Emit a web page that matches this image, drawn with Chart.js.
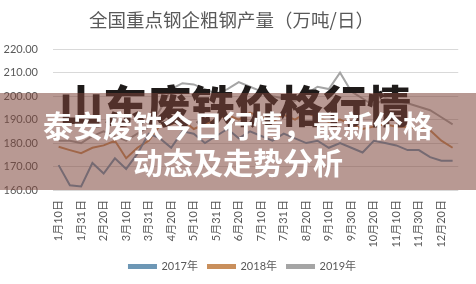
<!DOCTYPE html>
<html lang="zh-CN">
<head>
<meta charset="utf-8">
<title>全国重点钢企粗钢产量</title>
<script src="https://cdn.jsdelivr.net/npm/chart.js@4"></script>
<style>
  html, body { margin: 0; padding: 0; background: #ffffff; }
  #wrap { position: relative; width: 476px; height: 284px; overflow: hidden; }
  #chart { position: absolute; left: 0; top: 0; }
  .headline {
    position: absolute; left: 0; width: 470px; top: 82px;
    text-align: center; font-family: "Noto Sans CJK SC", sans-serif;
    font-size: 44px; line-height: 44px; font-weight: 900; color: #1e1a19;
    white-space: nowrap;
  }
  .band {
    position: absolute; left: 0; top: 93px; width: 476px; height: 97px;
    background: rgba(125, 70, 58, 0.55);
  }
  .caption {
    position: absolute; left: 0; width: 476px; top: 106px;
    text-align: center; font-family: "Noto Sans CJK SC", sans-serif;
    font-size: 30px; line-height: 37px; font-weight: 700; color: #ffffff;
    white-space: nowrap;
  }
</style>
</head>
<body>
<div id="wrap">
  <canvas id="chart" width="476" height="284"></canvas>
  <div class="headline">山东废铁价格行情</div>
  <div class="band"></div>
  <div class="caption">泰安废铁今日行情，最新价格<br>动态及走势分析</div>
</div>
<script>
// Ten-day reporting dates across the year
const categories = ['1月10日','1月20日','1月31日','2月10日','2月20日','2月28日',
  '3月10日','3月20日','3月31日','4月10日','4月20日','4月30日',
  '5月10日','5月20日','5月31日','6月10日','6月20日','6月30日',
  '7月10日','7月20日','7月31日','8月10日','8月20日','8月31日',
  '9月10日','9月20日','9月30日','10月10日','10月20日','10月31日',
  '11月10日','11月20日','11月30日','12月10日','12月20日','12月31日'];

// Daily crude steel output of key steel enterprises (10k tonnes / day)
const output2017 = [170.6, 162.0, 161.5, 171.5, 167.0, 173.5, 169.0, 175.5, 184.0, 182.0,
  178.0, 185.0, 184.0, 180.0, 183.0, 186.0, 182.0, 185.0, 183.0, 181.0,
  184.0, 182.0, 180.0, 181.0, 178.0, 180.0, 178.0, 176.0, 181.0, 180.0,
  179.0, 177.0, 177.0, 174.0, 172.5, 172.5];
const output2018 = [178.4, 177.0, 175.7, 178.0, 179.0, 181.0, 173.5, 178.0, 181.0, 187.5,
  188.0, 190.0, 186.0, 188.0, 190.0, 192.0, 190.0, 193.0, 191.0, 189.0,
  192.0, 190.0, 193.0, 191.0, 189.0, 190.0, 188.0, 186.0, 187.0, 188.0,
  187.0, 186.8, 186.0, 185.5, 181.0, 178.0];
const output2019 = [181.0, 181.0, 180.0, 183.0, 185.0, 183.0, 181.0, 184.0, 187.0, 194.0,
  203.0, 205.5, 205.0, 203.0, 201.0, 203.0, 206.0, 204.0, 202.0, 200.0,
  199.0, 198.0, 201.0, 204.0, 203.0, 210.0, 202.0, 199.0, 196.0, 199.0,
  198.0, 197.0, 195.5, 194.0, 191.0, 188.0];

const seriesNames = ['2017年', '2018年', '2019年'];
const chartTitle = '全国重点钢企粗钢产量（万吨/日）';

const textFont = 'Lato, "Noto Sans CJK SC", sans-serif';
const textColor = '#595959';

// Nudge the bottom legend so it sits centred under the whole figure
const legendShift = {
  id: 'legendShift',
  afterLayout(chart) {
    const lg = chart.legend;
    if (lg) { lg.left += 11; lg.right += 11; }
  }
};

new Chart(document.getElementById('chart'), {
  type: 'line',
  data: {
    labels: categories,
    datasets: [
      { label: seriesNames[0], data: output2017, borderColor: '#6d97b5', backgroundColor: '#6d97b5' },
      { label: seriesNames[1], data: output2018, borderColor: '#c98f5c', backgroundColor: '#c98f5c' },
      { label: seriesNames[2], data: output2019, borderColor: '#a5a5a5', backgroundColor: '#a5a5a5' }
    ].map(d => Object.assign(d, { borderWidth: 2, pointRadius: 0, tension: 0, fill: false }))
  },
  plugins: [legendShift],
  options: {
    responsive: false,
    animation: false,
    devicePixelRatio: 1,
    layout: { padding: { left: 0, right: 13, top: 0, bottom: 2 } },
    plugins: {
      title: {
        display: true,
        text: chartTitle,
        color: textColor,
        font: { family: '"Noto Sans CJK SC", sans-serif', size: 18.5, weight: 'normal' },
        padding: { top: 9, bottom: 18 }
      },
      legend: {
        position: 'bottom',
        labels: {
          boxWidth: 27, boxHeight: 3, padding: 10,
          color: textColor,
          font: { family: textFont, size: 11 }
        }
      },
      tooltip: { enabled: false }
    },
    scales: {
      y: {
        min: 160, max: 220,
        ticks: {
          stepSize: 10, padding: 15, color: textColor,
          font: { family: textFont, size: 11 },
          callback: v => v.toFixed(2)
        },
        grid: { color: '#d9d9d9', drawTicks: false },
        border: { display: false },
        afterFit: s => { s.width = 53; }
      },
      x: {
        offset: true,
        grid: { display: false, drawTicks: false },
        border: { display: false },
        ticks: {
          autoSkip: false, maxRotation: 90, minRotation: 90, padding: 10,
          color: textColor, font: { family: textFont, size: 11 },
          callback: (v, i) => (i % 2 === 0 ? categories[i] : '')
        },
        afterFit: s => { s.height = 61; }
      }
    }
  }
});
</script>
</body>
</html>
